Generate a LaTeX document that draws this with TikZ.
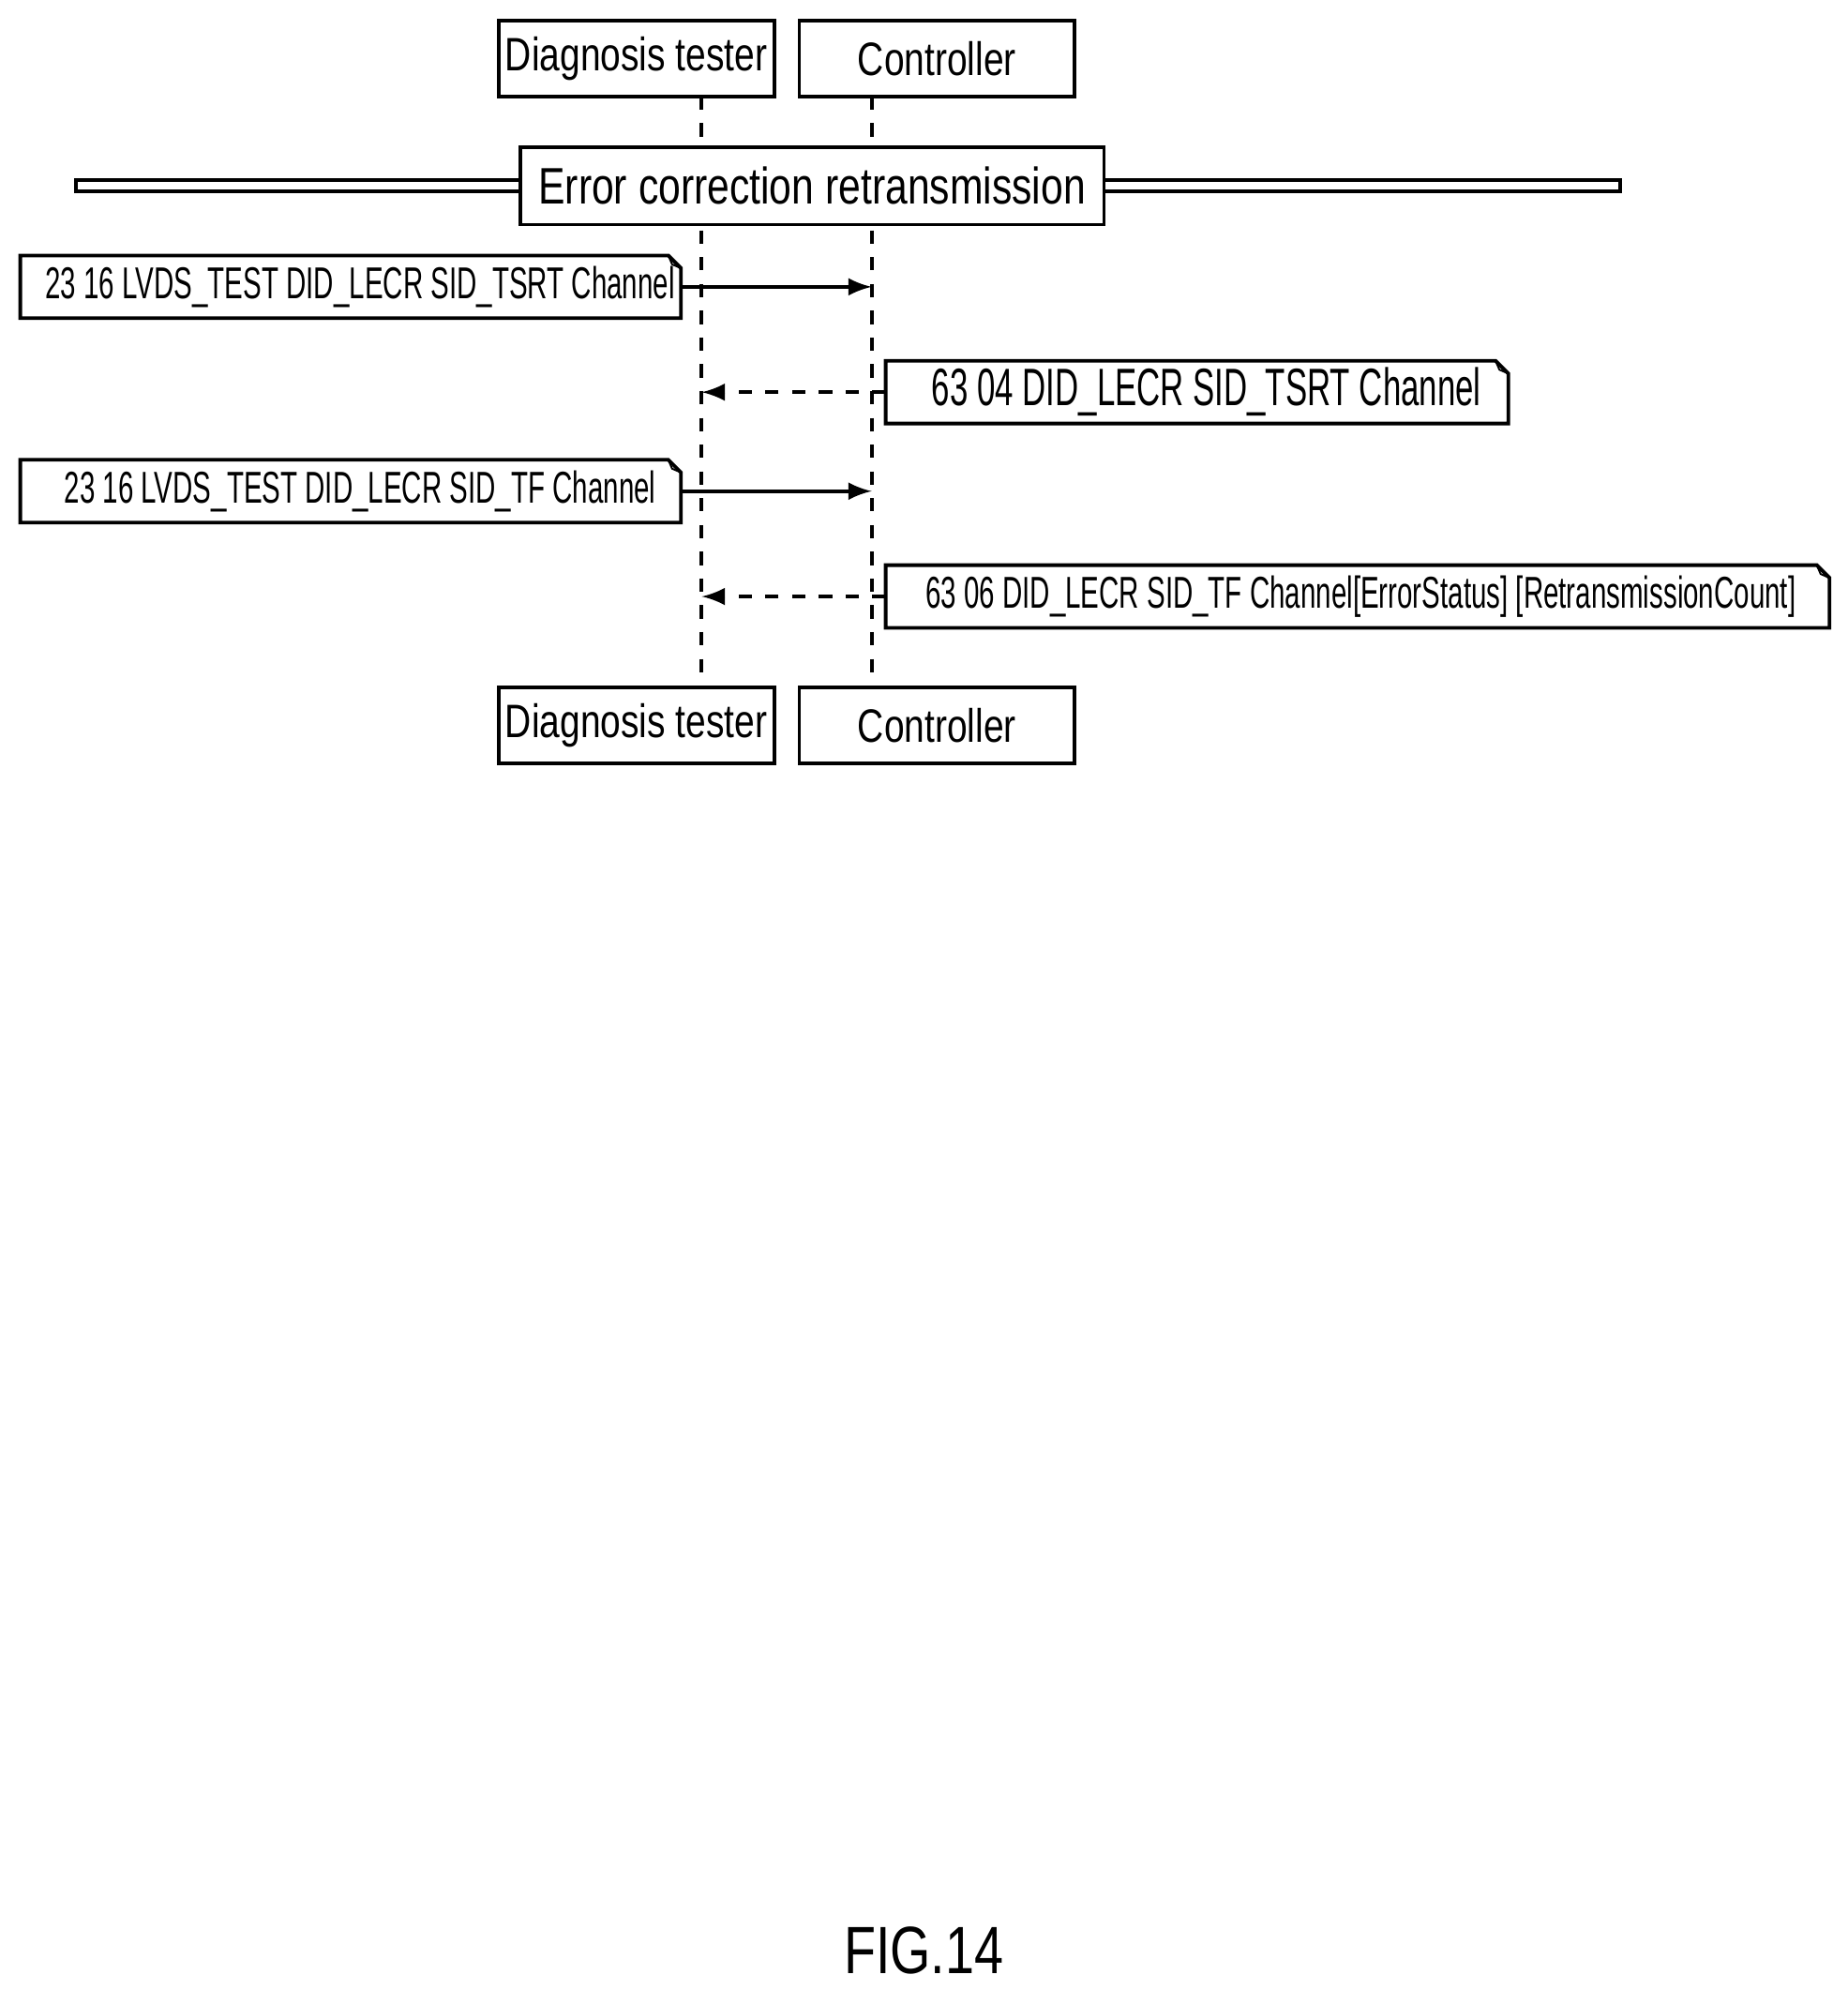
\documentclass[tikz,border=0pt]{standalone}
\usepackage{fontspec}
\setmainfont{Liberation Sans}[FakeStretch=0.62]
\newfontfamily\headfont{Liberation Sans}[FakeStretch=0.78]
\usetikzlibrary{positioning, arrows}

\tikzset{
  actor/.style={draw, thick, minimum width=2.17cm, minimum height=0.6cm, inner sep=0pt, font=\headfont\fontsize{10.5}{11}\selectfont},
  msg/.style={minimum height=0.48cm, inner sep=0pt, anchor=west, font=\fontsize{10}{11}\selectfont},
  life/.style={dashed, thick},
}
\newcommand{\notebox}[1]{%
  \draw[thick] (#1.south west) -- (#1.south east) -- ([yshift=-0.1cm]#1.north east)
    -- ([xshift=-0.1cm]#1.north east) -- (#1.north west) -- cycle;
  \draw (#1.north east) ++(-0.1cm,0) -- ++(0.03cm,-0.07cm) -- ++(0.07cm,-0.03cm);}

\begin{document}
\begin{tikzpicture}[x=0.01cm, y=-0.01cm, >=latex]
  \useasboundingbox (0,0) rectangle (1456,1568);

  \node[actor](tester) at (501.5,46){Diagnosis tester};
  \node[actor](ctrl) at (738.5,46){Controller};
  \node[actor](testerb) at (501.5,571.5){Diagnosis tester};
  \node[actor](ctrlb) at (738.5,571.5){Controller};

  \coordinate (lt) at (553,76);
  \coordinate (lc) at (687,76);
  \coordinate (lbt) at (553,541);
  \coordinate (lbc) at (687,541);
  \draw[life] (lt) -- (lbt);
  \draw[life] (lc) -- (lbc);

  % error correction band
  \draw[thick, fill=white] (60,142) rectangle (1277,151);
  \node[draw, thick, fill=white, minimum width=4.6cm, minimum height=0.61cm, inner sep=0pt,
        font=\headfont\fontsize{11.5}{12}\selectfont](band) at (640,146.5){Error correction retransmission};

  % messages
  \node[msg, minimum width=5.19cm](m1) at (16,226){\hspace{0.15cm}23 16 LVDS\_TEST DID\_LECR SID\_TSRT Channel\hfill};
  \notebox{m1}
  \node[msg, minimum width=4.89cm](m2) at (698,309){\hspace{0.15cm}\fontsize{11.8}{12}\selectfont 63 04 DID\_LECR SID\_TSRT Channel\hfill};
  \notebox{m2}
  \node[msg, minimum width=5.19cm](m3) at (16,387){\hspace{0.15cm}23 16 LVDS\_TEST DID\_LECR SID\_TF Channel\hfill};
  \notebox{m3}
  \node[msg, minimum width=7.42cm](m4) at (698,470){\hspace{0.05cm}63 06 DID\_LECR SID\_TF Channel[ErrorStatus] [RetransmissionCount]\hfill};
  \notebox{m4}

  \coordinate (a1) at (687,226);
  \coordinate (a2) at (553,309);
  \coordinate (a3) at (687,387);
  \coordinate (a4) at (553,470);
  \draw[->, thick] (m1.east) -- (a1);
  \draw[->, thick, dashed] (m2.west) -- (a2);
  \draw[->, thick] (m3.east) -- (a3);
  \draw[->, thick, dashed] (m4.west) -- (a4);

  \node[font=\headfont\fontsize{15}{15}\selectfont](fig) at (728,1537){FIG.14};
\end{tikzpicture}
\end{document}
